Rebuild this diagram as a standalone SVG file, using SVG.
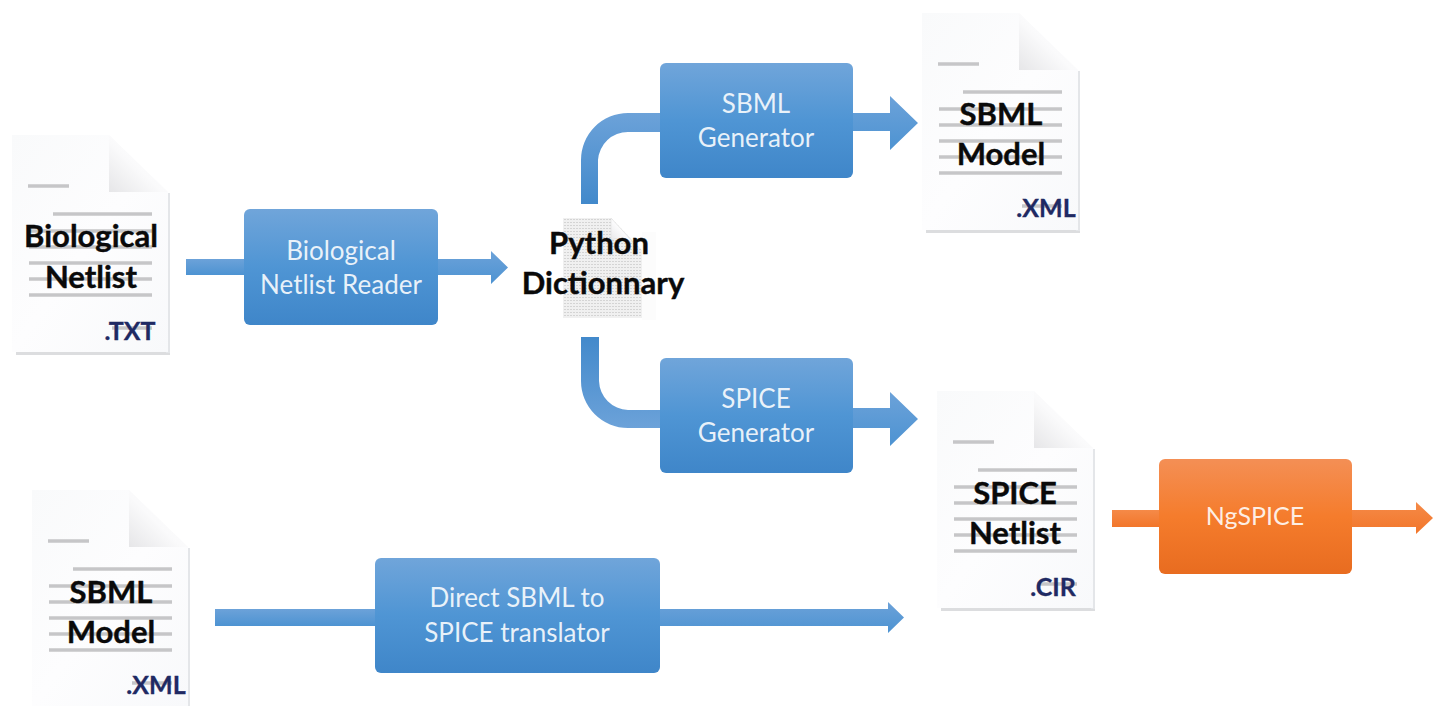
<svg xmlns="http://www.w3.org/2000/svg" xmlns:xlink="http://www.w3.org/1999/xlink" width="1439" height="706" viewBox="0 0 1439 706">
<style>
text{font-family:Lato,"Open Sans","Liberation Sans",sans-serif;text-anchor:middle}
.box{fill:#fff;font-size:26px;fill-opacity:.88}
.doct{font-size:31px;font-weight:700;fill:#0a0a0a;stroke:#0a0a0a;stroke-width:.4}
.ext{font-size:25px;font-weight:700;fill:#1f2a63;stroke:#1f2a63;stroke-width:.3}
.ln{stroke:#c6c6c8;stroke-width:3.400;fill:none}
</style>
<defs>
<linearGradient id="b" x1="0" y1="0" x2="0" y2="1"><stop offset="0" stop-color="#70a5da"/><stop offset=".5" stop-color="#4f95d4"/><stop offset="1" stop-color="#3f86c9"/></linearGradient>
<linearGradient id="a" x1="0" y1="0" x2="0" y2="1"><stop offset="0" stop-color="#6ca2d9"/><stop offset="1" stop-color="#4d93d2"/></linearGradient>
<linearGradient id="c" x1="0" y1="0" x2="0" y2="1"><stop offset="0" stop-color="#6ca2d9"/><stop offset="1" stop-color="#4289cb"/></linearGradient>
<linearGradient id="bu" x1="0" y1="1" x2="0" y2="0"><stop offset="0" stop-color="#6ca2d9"/><stop offset="1" stop-color="#4289cb"/></linearGradient>
<linearGradient id="o" x1="0" y1="0" x2="0" y2="1"><stop offset="0" stop-color="#f48f55"/><stop offset=".5" stop-color="#f57c2c"/><stop offset="1" stop-color="#e86c20"/></linearGradient>
<linearGradient id="oa" x1="0" y1="0" x2="0" y2="1"><stop offset="0" stop-color="#f58a48"/><stop offset="1" stop-color="#f2762a"/></linearGradient>
<linearGradient id="p" x1="0" y1="0" x2="1" y2="1"><stop offset="0" stop-color="#f9fafb"/><stop offset=".5" stop-color="#fdfdfe"/><stop offset="1" stop-color="#f8f9fb"/></linearGradient>
<linearGradient id="f" x1="0" y1="1" x2="1" y2="0"><stop offset="0" stop-color="#e6e6e8"/><stop offset=".45" stop-color="#fafafb"/><stop offset="1" stop-color="#fff"/></linearGradient>
<pattern id="dots" width="3" height="3" patternUnits="userSpaceOnUse"><rect width="3" height="3" fill="#f0f0f0"/><rect width="2" height="1" fill="#d4d4d4"/></pattern>
<g id="doc">
<rect x="4" y="214" width="154" height="6" fill="#dcdddf"/>
<rect x="154" y="58" width="4" height="160" fill="#e4e6e9"/>
<path d="M0 0H97L156 57V217H0Z" fill="url(#p)"/>
<path d="M97 0V57H156Z" fill="url(#f)"/>
<path class="ln" d="M16 51H57M41 79H140M17 96H140M17 112H140M17 128H140M17 144H140M17 160H140M100 193H140"/>
</g>
</defs>
<g id="connectors">
<rect x="186" y="259" width="60" height="16" fill="url(#a)"/>
<path d="M436 259H491V251L508 267.500L491 284V275H436Z" fill="url(#a)"/>
<path d="M581 204V160A47 47 0 0 1 628 113H662V132H628A30 30 0 0 0 598 160V204Z" fill="url(#c)"/>
<path d="M581 337V381A47 47 0 0 0 628 428H662V410H628A30 30 0 0 1 599 381V337Z" fill="url(#bu)"/>
<path d="M851 113H890V96L918 123L890 150V131H851Z" fill="url(#a)"/>
<path d="M851 408H890V392L918 419L890 446V428H851Z" fill="url(#a)"/>
<rect x="215" y="609" width="162" height="17" fill="url(#a)"/>
<path d="M658 609H888V602L904 617.500L888 633V626H658Z" fill="url(#a)"/>
<rect x="1112" y="510" width="49" height="17" fill="url(#oa)"/>
<path d="M1350 510H1416V502L1433 518L1416 534V527H1350Z" fill="url(#oa)"/>
</g>
<g id="doc-biological"><use xlink:href="#doc" href="#doc" x="12" y="135"/><text class="doct" x="91" y="247">Biological</text><text class="doct" x="91" y="288">Netlist</text><text class="ext" x="130" y="340">.TXT</text></g>
<g id="box-reader"><rect x="244" y="209" width="194" height="116" rx="6" fill="url(#b)"/><text class="box" x="341" y="260">Biological</text><text class="box" x="341" y="294">Netlist Reader</text></g>
<g id="doc-python"><rect x="642" y="232" width="14" height="88" fill="#fcfcfc"/><path d="M563 218H611L642 250V318H563Z" fill="url(#dots)"/><path d="M611 218L633 242Q618 236 611 240Z" fill="url(#f)" stroke="#d8d8d8" stroke-width=".5"/><text class="doct" x="599" y="254">Python</text><text class="doct" x="603" y="294">Dictionnary</text></g>
<g id="box-sbml"><rect x="660" y="63" width="193" height="115" rx="6" fill="url(#b)"/><text class="box" x="756" y="113">SBML</text><text class="box" x="756" y="147">Generator</text></g>
<g id="box-spice"><rect x="660" y="358" width="193" height="115" rx="6" fill="url(#b)"/><text class="box" x="756" y="408">SPICE</text><text class="box" x="756" y="442">Generator</text></g>
<g id="doc-sbml"><use xlink:href="#doc" href="#doc" x="922" y="13"/><text class="doct" x="1001" y="125">SBML</text><text class="doct" x="1001" y="165">Model</text><text class="ext" x="1046" y="217">.XML</text></g>
<g id="doc-spice"><use xlink:href="#doc" href="#doc" x="937" y="391"/><text class="doct" x="1015" y="504">SPICE</text><text class="doct" x="1015" y="544">Netlist</text><text class="ext" x="1053" y="596">.CIR</text></g>
<g id="doc-sbml-input"><use xlink:href="#doc" href="#doc" x="32" y="490"/><text class="doct" x="111" y="603">SBML</text><text class="doct" x="111" y="643">Model</text><text class="ext" x="156" y="694">.XML</text></g>
<g id="box-translator"><rect x="375" y="558" width="285" height="115" rx="6" fill="url(#b)"/><text class="box" x="517" y="607">Direct SBML to</text><text class="box" x="517" y="642">SPICE translator</text></g>
<g id="box-ngspice"><rect x="1159" y="459" width="193" height="115" rx="6" fill="url(#o)"/><text class="box" x="1255" y="525" style="font-size:25px">NgSPICE</text></g>
</svg>
